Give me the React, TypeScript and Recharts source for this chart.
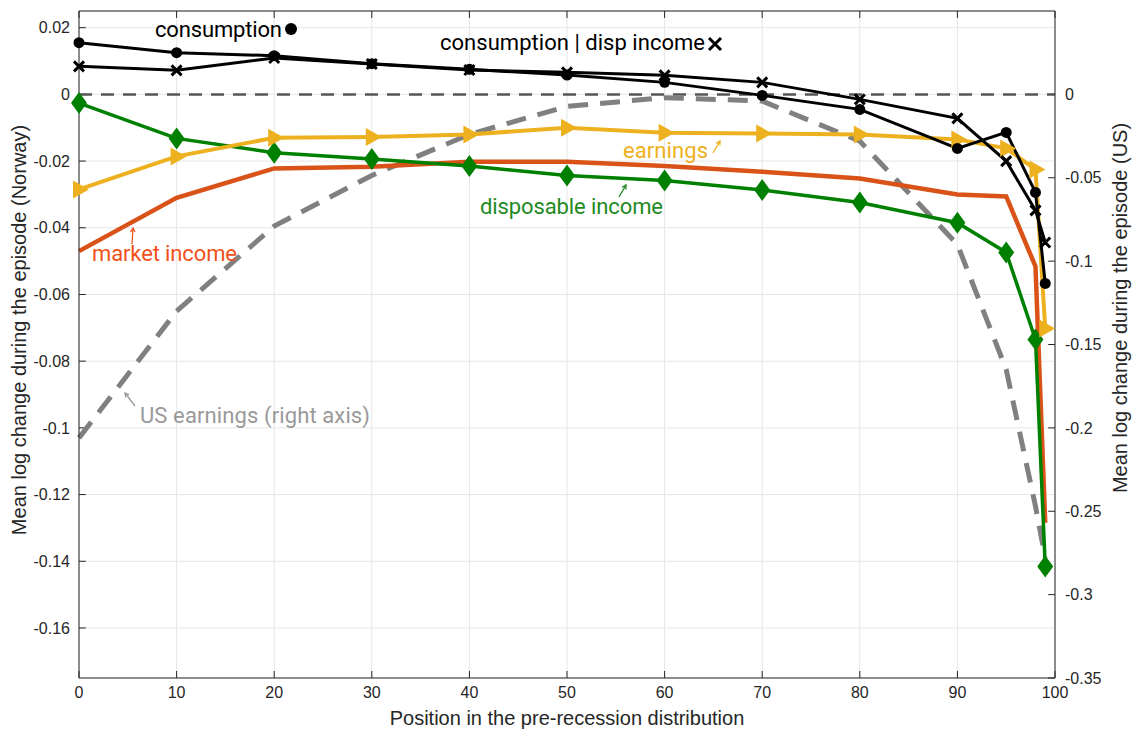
import React from 'react'
import {
  CartesianGrid,
  ComposedChart,
  Line,
  ReferenceLine,
  XAxis,
  YAxis,
} from 'recharts'

// percentile positions in the pre-recession distribution
const positions = [0, 10, 20, 30, 40, 50, 60, 70, 80, 90, 95, 98, 99]

// Norway (left axis)
const consumption = [
  0.0155, 0.0125, 0.0116, 0.0092, 0.0075, 0.0058, 0.0036, -0.0003, -0.0045,
  -0.0162, -0.0114, -0.0294, -0.0567,
]
const consumptionGivenDisp = [
  0.0084, 0.0072, 0.0109, 0.0091, 0.0073, 0.0066, 0.0057, 0.0036, -0.0015,
  -0.0072, -0.02, -0.0348, -0.0444,
]
const earnings = [
  -0.0285, -0.0186, -0.013, -0.0128, -0.012, -0.01, -0.0115, -0.0117, -0.012,
  -0.0135, -0.0162, -0.0225, -0.0702,
]
const marketIncome = [
  -0.047, -0.031, -0.0222, -0.0217, -0.0202, -0.0202, -0.0215, -0.0232,
  -0.0252, -0.03, -0.0306, -0.0516, -0.1285,
]
const disposableIncome = [
  -0.0026, -0.0132, -0.0175, -0.0194, -0.0215, -0.0243, -0.0258, -0.0287,
  -0.0324, -0.0385, -0.0474, -0.0735, -0.1416,
]
// US (right axis)
const usEarnings = [
  -0.206, -0.13, -0.079, -0.0486, -0.024, -0.0072, -0.002, -0.004, -0.028,
  -0.09, -0.165, -0.247, -0.278,
]

const xTicks = [0, 10, 20, 30, 40, 50, 60, 70, 80, 90, 100]
const leftTicks = [
  0.02, 0, -0.02, -0.04, -0.06, -0.08, -0.1, -0.12, -0.14, -0.16,
]
const rightTicks = [0, -0.05, -0.1, -0.15, -0.2, -0.25, -0.3, -0.35]
const leftDomain = [-0.175, 0.025]
const rightDomain = [-0.35, 0.05]

const data = positions.map((pos, i) => ({
  pos,
  consumption: consumption[i],
  consumptionGivenDisp: consumptionGivenDisp[i],
  earnings: earnings[i],
  marketIncome: marketIncome[i],
  disposableIncome: disposableIncome[i],
  usEarnings: usEarnings[i],
}))

const GREEN = '#008000'
const ORANGE = '#D95319'
const YELLOW = '#EDB120'
const GRAY = '#808080'
const AXIS = '#262626'
const tickFont = {
  fontFamily: '"Liberation Sans", Arial, sans-serif',
  fontSize: 16,
  fill: AXIS,
}
const noteFont = 'Roboto, "Liberation Sans", sans-serif'

const circleDot = (p: any) => (
  <circle key={`c${p.index}`} cx={p.cx} cy={p.cy} r={5.5} fill="#000" />
)
const crossDot = (p: any) => (
  <path
    key={`x${p.index}`}
    d={`M${p.cx - 5},${p.cy - 5}L${p.cx + 5},${p.cy + 5}M${p.cx - 5},${p.cy + 5}L${p.cx + 5},${p.cy - 5}`}
    stroke="#000"
    strokeWidth={3}
  />
)
const diamondDot = (p: any) => (
  <polygon
    key={`d${p.index}`}
    points={`${p.cx},${p.cy - 11} ${p.cx + 8},${p.cy} ${p.cx},${p.cy + 11} ${p.cx - 8},${p.cy}`}
    fill={GREEN}
  />
)
const triangleDot = (p: any) => (
  <polygon
    key={`t${p.index}`}
    points={`${p.cx - 6},${p.cy - 9} ${p.cx + 10},${p.cy} ${p.cx - 6},${p.cy + 9}`}
    fill={YELLOW}
  />
)

const fmt = (v: number) => String(Number(v.toFixed(3)))

// small annotation arrow, head at (x2, y2)
const Arrow = ({ x1, y1, x2, y2, color }: any) => {
  const a = Math.atan2(y2 - y1, x2 - x1)
  const h = 4.5
  const p1 = [x2 - h * Math.cos(a - 0.5), y2 - h * Math.sin(a - 0.5)]
  const p2 = [x2 - h * Math.cos(a + 0.5), y2 - h * Math.sin(a + 0.5)]
  return (
    <g stroke={color} strokeWidth={1.3} fill="none">
      <line x1={x1} y1={y1} x2={x2} y2={y2} />
      <path d={`M${p1[0]},${p1[1]}L${x2},${y2}L${p2[0]},${p2[1]}`} />
    </g>
  )
}

export default function App() {
  const tickLen = 0.0021
  return (
    <div
      style={{
        position: 'absolute',
        left: 0,
        top: 0,
        width: 1133,
        height: 733,
        background: '#fff',
      }}
    >
      <ComposedChart
        width={1133}
        height={733}
        data={data}
        margin={{ top: 11, right: 0, bottom: 0, left: 0 }}
      >
        <CartesianGrid yAxisId="left" stroke="#e6e6e6" strokeWidth={1} />
        <XAxis
          dataKey="pos"
          type="number"
          domain={[0, 100]}
          ticks={xTicks}
          interval={0}
          height={55}
          tickSize={0}
          tickMargin={9}
          tickLine={false}
          axisLine={{ stroke: AXIS }}
          tick={tickFont}
        />
        <YAxis
          yAxisId="left"
          type="number"
          domain={leftDomain}
          ticks={leftTicks}
          interval={0}
          width={79}
          tickSize={0}
          tickMargin={9}
          tickLine={false}
          axisLine={{ stroke: AXIS }}
          tick={tickFont}
          tickFormatter={fmt}
        />
        <YAxis
          yAxisId="right"
          orientation="right"
          type="number"
          domain={rightDomain}
          ticks={rightTicks}
          interval={0}
          width={78}
          tickSize={0}
          tickMargin={10}
          tickLine={false}
          axisLine={{ stroke: AXIS }}
          tick={tickFont}
          tickFormatter={fmt}
        />
        <ReferenceLine yAxisId="left" y={leftDomain[1]} stroke={AXIS} />
        {xTicks.map((t) => (
          <ReferenceLine
            key={`xb${t}`}
            yAxisId="left"
            segment={[
              { x: t, y: leftDomain[0] },
              { x: t, y: leftDomain[0] + tickLen },
            ]}
            stroke={AXIS}
          />
        ))}
        {xTicks.map((t) => (
          <ReferenceLine
            key={`xt${t}`}
            yAxisId="left"
            segment={[
              { x: t, y: leftDomain[1] },
              { x: t, y: leftDomain[1] - tickLen },
            ]}
            stroke={AXIS}
          />
        ))}
        {leftTicks.map((t) => (
          <ReferenceLine
            key={`yl${t}`}
            yAxisId="left"
            segment={[
              { x: 0, y: t },
              { x: 0.7, y: t },
            ]}
            stroke={AXIS}
          />
        ))}
        {rightTicks.map((t) => (
          <ReferenceLine
            key={`yr${t}`}
            yAxisId="right"
            segment={[
              { x: 100, y: t },
              { x: 99.3, y: t },
            ]}
            stroke={AXIS}
          />
        ))}
        <ReferenceLine
          yAxisId="left"
          y={0}
          stroke="#555"
          strokeWidth={2.5}
          strokeDasharray="13 9"
        />
        <Line
          yAxisId="right"
          dataKey="usEarnings"
          type="linear"
          stroke={GRAY}
          strokeWidth={5}
          strokeDasharray="20 12"
          dot={false}
          activeDot={false}
          isAnimationActive={false}
        />
        <Line
          yAxisId="left"
          dataKey="marketIncome"
          type="linear"
          stroke={ORANGE}
          strokeWidth={4.5}
          dot={false}
          activeDot={false}
          isAnimationActive={false}
        />
        <Line
          yAxisId="left"
          dataKey="disposableIncome"
          type="linear"
          stroke={GREEN}
          strokeWidth={3.5}
          dot={diamondDot}
          activeDot={false}
          isAnimationActive={false}
        />
        <Line
          yAxisId="left"
          dataKey="earnings"
          type="linear"
          stroke={YELLOW}
          strokeWidth={4}
          dot={triangleDot}
          activeDot={false}
          isAnimationActive={false}
        />
        <Line
          yAxisId="left"
          dataKey="consumption"
          type="linear"
          stroke="#000"
          strokeWidth={3}
          dot={circleDot}
          activeDot={false}
          isAnimationActive={false}
        />
        <Line
          yAxisId="left"
          dataKey="consumptionGivenDisp"
          type="linear"
          stroke="#000"
          strokeWidth={3}
          dot={crossDot}
          activeDot={false}
          isAnimationActive={false}
        />
      </ComposedChart>

      <svg
        width={1133}
        height={733}
        style={{ position: 'absolute', left: 0, top: 0, pointerEvents: 'none' }}
      >
        <g fontFamily={tickFont.fontFamily} fontSize={20} fill={AXIS}>
          <text x={567} y={725} textAnchor="middle">
            Position in the pre-recession distribution
          </text>
          <text transform="translate(26,330) rotate(-90)" textAnchor="middle">
            Mean log change during the episode (Norway)
          </text>
          <text transform="translate(1127,308) rotate(-90)" textAnchor="middle">
            Mean log change during the episode (US)
          </text>
        </g>
        <g fontFamily={noteFont} fontSize={22} lengthAdjust="spacingAndGlyphs">
          <text x={155} y={37} fill="#000" textLength={127}>
            consumption
          </text>
          <circle cx={291} cy={29} r={6} fill="#000" />
          <text x={440} y={50} fill="#000" textLength={265}>
            consumption | disp income
          </text>
          <path
            d="M709,38L721,50M709,50L721,38"
            stroke="#000"
            strokeWidth={3}
          />
          <text x={623} y={158} fill={YELLOW} textLength={85}>
            earnings
          </text>
          <Arrow x1={713} y1={153} x2={720} y2={141} color={YELLOW} />
          <text x={480} y={214} fill="#1f8a1f" textLength={183}>
            disposable income
          </text>
          <Arrow x1={619} y1={197} x2={626} y2={185} color="#1f8a1f" />
          <text x={92} y={261} fill="#F2501A" textLength={145}>
            market income
          </text>
          <Arrow x1={132} y1={244} x2={133} y2={228} color="#F2501A" />
          <text x={140} y={423} fill="#999" textLength={230}>
            US earnings (right axis)
          </text>
          <Arrow x1={135} y1={406} x2={125} y2={393} color="#999" />
        </g>
      </svg>
    </div>
  )
}
